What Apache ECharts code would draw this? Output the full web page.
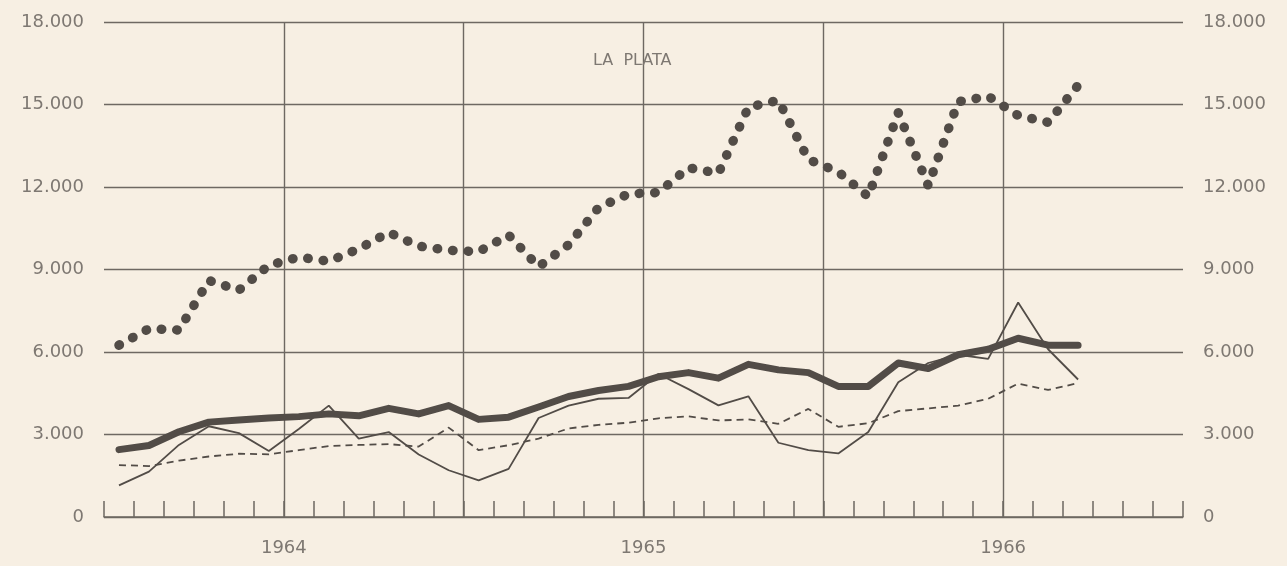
<!DOCTYPE html>
<html>
<head>
<meta charset="utf-8">
<script src="https://cdn.jsdelivr.net/npm/echarts@6/dist/echarts.min.js"></script>
<style>
  html, body { margin: 0; padding: 0; background: #f7efe3; }
  #chart { width: 1287px; height: 566px; }
</style>
</head>
<body>
<div id="chart"></div>
<script>
// monthly series, Jan 1964 .. Sep 1966
const years = ["1964", "1965", "1966"];
const monthNames = ["Ene", "Feb", "Mar", "Abr", "May", "Jun", "Jul", "Ago", "Sep", "Oct", "Nov", "Dic"];

const dotted = [
  6250, 6850, 6800, 8600, 8250, 9150, 9450, 9300, 9750, 10350, 9850, 9700,
  9650, 10250, 9100, 9900, 11250, 11750, 11800, 12700, 12500, 14900, 15150, 13000,
  12550, 11650, 14700, 12050, 15100, 15300, 14600, 14350, 15700,
];
const thick = [
  2450, 2600, 3100, 3450, 3530, 3600, 3650, 3750, 3680, 3950, 3750, 4050,
  3550, 3630, 4000, 4380, 4600, 4750, 5100, 5250, 5050, 5550, 5350, 5250,
  4750, 4750, 5600, 5400, 5900, 6100, 6500, 6250, 6250,
];
const thin = [
  1150, 1650, 2620, 3300, 3050, 2400, 3200, 4050, 2850, 3090, 2270, 1700,
  1330, 1750, 3600, 4050, 4300, 4330, 5200, 4650, 4060, 4390, 2700, 2430,
  2310, 3090, 4900, 5600, 5900, 5750, 7800, 6100, 5000,
];
const dashed = [
  1890, 1850, 2050, 2200, 2300, 2280, 2430, 2580, 2620, 2650, 2560, 3250,
  2430, 2610, 2850, 3220, 3350, 3430, 3590, 3660, 3510, 3550, 3390, 3930,
  3280, 3410, 3850, 3950, 4050, 4300, 4850, 4620, 4870,
];

const months = [];
years.forEach((y) => monthNames.forEach((m) => months.push(m + " " + y)));

const INK = "#524c47";
const GRID_INK = "#6e6862";
const TEXT = "#7e7872";
const FONT = "DejaVu Sans";

const fmt = (v) => (v === 0 ? "0" : v / 1000 + ".000");

const chart = echarts.init(document.getElementById("chart"));

chart.setOption({
  animation: false,
  backgroundColor: "#f7efe3",
  title: {
    text: "LA  PLATA",
    left: 588,
    top: 48,
    textStyle: { fontFamily: FONT, fontSize: 16, fontWeight: "normal", color: TEXT },
  },
  grid: { left: 104, right: 104, top: 22, bottom: 49, outerBoundsMode: "none" },
  xAxis: [
    {
      type: "category",
      data: months,
      boundaryGap: true,
      axisLine: { lineStyle: { color: GRID_INK, width: 1.5 } },
      axisTick: { show: true, inside: true, length: 16, interval: 0, lineStyle: { color: GRID_INK, width: 1.5 } },
      axisLabel: { show: false },
      splitLine: {
        show: true,
        showMaxLine: false,
        interval: (index) => index > 0 && index % 6 === 0,
        lineStyle: { color: GRID_INK, width: 1.4 },
      },
    },
    {
      type: "category",
      data: years,
      position: "bottom",
      boundaryGap: true,
      axisLine: { show: false },
      axisTick: { show: false },
      splitLine: { show: false },
      axisLabel: { margin: 22, fontFamily: FONT, fontSize: 18, color: TEXT },
    },
  ],
  yAxis: [
    {
      type: "value",
      position: "left",
      min: 0,
      max: 18000,
      interval: 3000,
      axisLine: { show: false },
      axisTick: { show: false },
      axisLabel: { margin: 20, formatter: fmt, fontFamily: FONT, fontSize: 18, color: TEXT },
      splitLine: { lineStyle: { color: GRID_INK, width: 1.4 } },
    },
    {
      type: "value",
      position: "right",
      min: 0,
      max: 18000,
      interval: 3000,
      axisLine: { show: false },
      axisTick: { show: false },
      axisLabel: { margin: 20, formatter: fmt, fontFamily: FONT, fontSize: 18, color: TEXT },
      splitLine: { show: false },
    },
  ],
  series: [
    {
      name: "dotted",
      type: "line",
      data: dotted,
      symbol: "none",
      lineStyle: { color: INK, width: 9.5, type: [0.5, 15], cap: "round", join: "round" },
    },
    {
      name: "dashed",
      type: "line",
      data: dashed,
      symbol: "none",
      lineStyle: { color: INK, width: 1.8, type: [7, 5] },
    },
    {
      name: "thick",
      type: "line",
      data: thick,
      symbol: "none",
      lineStyle: { color: INK, width: 7, join: "round", cap: "round" },
    },
    {
      name: "thin",
      type: "line",
      data: thin,
      symbol: "none",
      lineStyle: { color: INK, width: 1.8 },
    },
  ],
});
</script>
</body>
</html>
